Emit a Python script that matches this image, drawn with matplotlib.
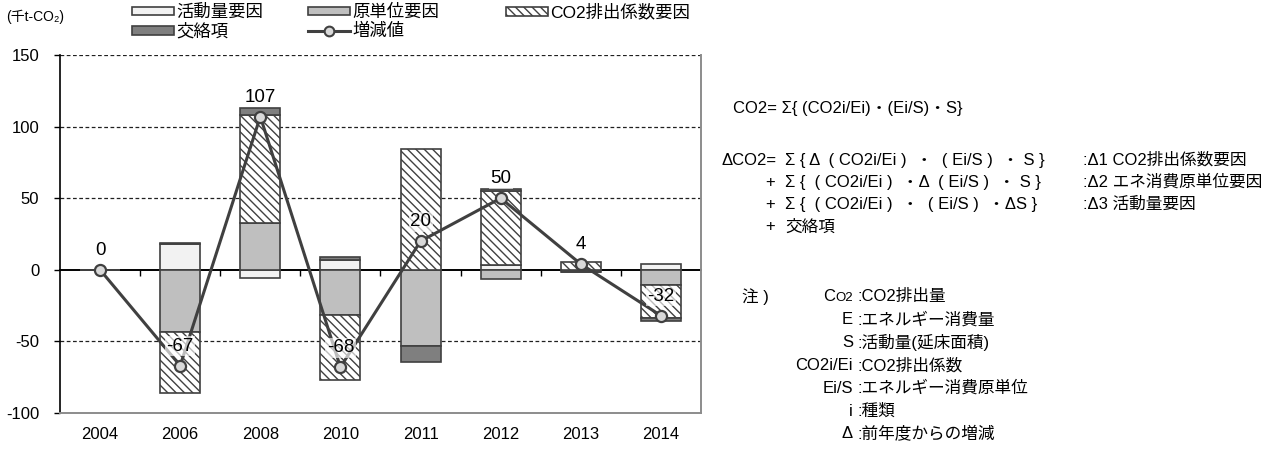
import numpy as np
import matplotlib
matplotlib.use("Agg")
import matplotlib.pyplot as plt
from matplotlib.patches import Patch
from matplotlib.lines import Line2D

# ---- data (thousand t-CO2) ----
years = ["2004", "2006", "2008", "2010", "2011", "2012", "2013", "2014"]
activity = [0, 18.0, -6.0, 7.0, 0, 3.5, 0, 4.0]                    # 活動量要因
intensity = [0, -43.5, 32.6, -31.9, -53.5, -6.3, -1.2, -10.3]      # 原単位要因
emission_factor = [0, -42.5, 75.4, -45.1, 84.5, 51.8, 5.5, -23.4]  # CO2排出係数要因
cross_term = [0, 1.0, 5.0, 2.0, -11.0, 1.0, -0.3, -2.3]            # 交絡項
change = [0, -67, 107, -68, 20, 50, 4, -32]                         # 増減値

series_labels = ["活動量要因", "原単位要因", "CO2排出係数要因", "交絡項"]
line_label = "増減値"

plt.rcParams["font.family"] = ["Liberation Sans", "Noto Sans CJK JP", "DejaVu Sans"]
plt.rcParams["axes.unicode_minus"] = False
plt.rcParams["hatch.linewidth"] = 1.0
plt.rcParams["hatch.color"] = "#404040"

W, H = 1284, 450
fig = plt.figure(figsize=(W / 100, H / 100), dpi=100)
ax = fig.add_axes([60 / W, 37 / H, 641 / W, 358 / H])

EDGE = "#404040"
styles = [
    dict(color="#f2f2f2"),
    dict(color="#bfbfbf"),
    dict(color="white", hatch="\\\\\\\\"),
    dict(color="#7f7f7f"),
]

x = np.arange(len(years))
pos = np.zeros(len(years))
neg = np.zeros(len(years))
for vals, st in zip([activity, intensity, emission_factor, cross_term], styles):
    v = np.asarray(vals, dtype=float)
    bottoms = np.where(v >= 0, pos, neg)
    ax.bar(x, v, width=0.5, bottom=bottoms, color=st["color"],
           hatch=st.get("hatch"), edgecolor=EDGE, linewidth=1.2, zorder=2)
    pos += np.clip(v, 0, None)
    neg += np.clip(v, None, 0)

# change line with value labels
ax.plot(x, change, color=EDGE, lw=2.2, marker="o", ms=8,
        mfc="#d9d9d9", mec=EDGE, mew=1.6, zorder=4)
for xi, v in zip(x, change):
    ax.annotate(f"{v:g}", (xi, v), xytext=(0, 14), textcoords="offset points",
                ha="center", va="center", fontsize=13.5, zorder=5,
                bbox=dict(boxstyle="square,pad=0.08", fc="white", ec="none", alpha=0.65))

# axes and grid
ymin, ymax = -100, 150
yticks = np.arange(ymin, ymax + 1, 50)
ax.set_xlim(-0.5, len(years) - 0.5)
ax.set_ylim(ymin, ymax)
ax.set_yticks(yticks)
for yv in yticks:
    if yv not in (0, ymin):
        ax.axhline(yv, color="#202020", lw=0.9, ls=(0, (3, 2)), zorder=1)

ax.set_xticks(x, years)
ax.tick_params(axis="x", length=0, pad=10, labelsize=12)
ax.tick_params(axis="y", direction="out", length=4, width=1, pad=11, labelsize=12)

ax.spines["top"].set_visible(False)
ax.spines["left"].set_color("black")
ax.spines["left"].set_linewidth(1.2)
ax.spines["right"].set_color("#8c8c8c")
ax.spines["right"].set_linewidth(1.4)
ax.spines["bottom"].set_color("#8c8c8c")
ax.spines["bottom"].set_linewidth(1.4)

# zero line with category boundary ticks
zero_frac = (0 - ymin) / (ymax - ymin)
sec = ax.secondary_xaxis(zero_frac)
sec.set_xticks(np.arange(len(years) - 1) + 0.5)
sec.tick_params(direction="out", length=4, width=1, labelbottom=False)
sec.spines["bottom"].set_color("black")
sec.spines["bottom"].set_linewidth(1.4)

# unit label
fig.text(6 / W, 1 - 17 / H, "(千t-CO₂)", fontsize=10, va="center", ha="left")

# legend, laid out in three columns
def patch(st):
    return Patch(facecolor=st["color"], edgecolor=EDGE, hatch=st.get("hatch"), linewidth=1.2)

line_handle = Line2D([], [], color=EDGE, lw=2.2, marker="o", ms=7,
                     mfc="#d9d9d9", mec=EDGE, mew=1.5)
cols = [
    ([patch(styles[0]), patch(styles[3])], [series_labels[0], series_labels[3]], 132),
    ([patch(styles[1]), line_handle], [series_labels[1], line_label], 308),
    ([patch(styles[2])], [series_labels[2]], 506),
]
for hs, ls, px in cols:
    fig.legend(hs, ls, loc="upper left", bbox_to_anchor=(px / W, 1 - 4 / H),
               frameon=False, fontsize=12.5, handlelength=2.4, handleheight=0.4,
               handletextpad=0.15, labelspacing=0.15, borderpad=0, borderaxespad=0)

# formula block
FS = 12


def ftext(px, py, s, **kw):
    kw.setdefault("fontsize", FS)
    return fig.text(px / W, 1 - py / H, s, va="center", **kw)


ftext(733, 108, "CO2= Σ{ (CO2i/Ei)・(Ei/S)・S}")
ftext(721, 160, "ΔCO2=")
for py in (182, 204, 227):
    ftext(765, py, "+")
ftext(785, 160, "Σ { Δ  ( CO2i/Ei )  ・  ( Ei/S )  ・ S }")
ftext(785, 182, "Σ {  ( CO2i/Ei )  ・Δ  ( Ei/S )  ・ S }")
ftext(785, 204, "Σ {  ( CO2i/Ei )  ・  ( Ei/S )  ・ΔS }")
ftext(785, 227, "交絡項")
ftext(1083, 160, ":Δ1 CO2排出係数要因")
ftext(1083, 182, ":Δ2 エネ消費原単位要因")
ftext(1083, 204, ":Δ3 活動量要因")

# notes
ftext(742, 297, "注 )")
notes = [
    ("CO2", "CO2排出量"),
    ("E", "エネルギー消費量"),
    ("S", "活動量(延床面積)"),
    ("CO2i/Ei", "CO2排出係数"),
    ("Ei/S", "エネルギー消費原単位"),
    ("i", "種類"),
    ("Δ", "前年度からの増減"),
]
for k, (term, desc) in enumerate(notes):
    py = 297 + k * 22.8
    if term == "CO2":
        small = ftext(853, py + 1, "O2", ha="right", fontsize=9.5)
        ax.annotate("C", xy=(0, 0), xycoords=small, ha="right", va="bottom",
                    fontsize=FS, annotation_clip=False)
    else:
        ftext(853, py, term, ha="right")
    ftext(857, py, ":" + desc)

fig.savefig("out.png", dpi=100)
